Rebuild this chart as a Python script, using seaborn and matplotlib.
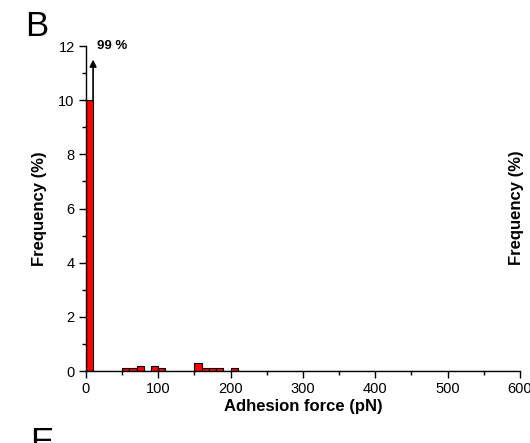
import numpy as np
import matplotlib
matplotlib.use('Agg')
import matplotlib.pyplot as plt
import matplotlib.ticker as mticker
import seaborn as sns

sns.set_style('ticks', {'text.color': 'black', 'axes.labelcolor': 'black',
                        'xtick.color': 'black', 'ytick.color': 'black',
                        'axes.edgecolor': 'black'})
plt.rcParams['font.family'] = ['Liberation Sans', 'DejaVu Sans']

# ── Data (bin left edge in pN, frequency in %) ─────────────────────────────────
bin_left = [0, 50, 60, 70, 90, 100, 150, 160, 170, 180, 200]
freq     = [99, 0.1, 0.1, 0.2, 0.2, 0.1, 0.3, 0.1, 0.1, 0.1, 0.1]
bin_edges = list(range(0, 610, 10))
cap = 10  # first bin is drawn truncated at this height, true value labelled

shown = np.minimum(freq, cap)

fig = plt.figure(figsize=(5.30, 4.43), dpi=100)
ax = fig.add_axes([0.162, 0.1625, 0.819, 0.7335])

sns.histplot(x=bin_left, weights=shown, bins=bin_edges, ax=ax,
             color='#ff0000', alpha=1, edgecolor='black', linewidth=0.8)

ax.set_xlim(0, 600)
ax.set_ylim(0, 12)
ax.xaxis.set_major_locator(mticker.MultipleLocator(100))
ax.xaxis.set_minor_locator(mticker.MultipleLocator(50))
ax.yaxis.set_major_locator(mticker.MultipleLocator(2))
ax.yaxis.set_minor_locator(mticker.MultipleLocator(1))
ax.tick_params(which='major', direction='out', length=5, width=1, labelsize=10.5, pad=3)
ax.tick_params(which='minor', direction='out', length=3, width=1)
sns.despine(ax=ax)
for s in ['left', 'bottom']:
    ax.spines[s].set_linewidth(1)

ax.set_xlabel('Adhesion force (pN)', fontsize=12, fontweight='bold', labelpad=2)
ax.set_ylabel('Frequency (%)', fontsize=12, fontweight='bold', labelpad=8)

# truncated first bin: arrow + true value
ax.annotate('', xy=(10, 11.5), xytext=(10, cap),
            arrowprops=dict(arrowstyle='-|>', color='black', lw=1.2,
                            mutation_scale=10, shrinkA=0, shrinkB=0),
            annotation_clip=False)
ax.text(15, 12.0, f'{freq[0]} %', fontsize=9.5, fontweight='bold', ha='left', va='center')

# panel letters and neighbouring-panel fragments
fig.text(25 / 530, 1 - 10 / 443, 'B', fontsize=25, ha='left', va='top')
fig.text(30 / 530, 1 - 426 / 443, 'E', fontsize=25, ha='left', va='top')
fig.text(517 / 530, 1 - 208 / 443, 'Frequency (%)', fontsize=12, fontweight='bold',
         rotation=90, ha='center', va='center')

fig.savefig('out.png', dpi=100)
